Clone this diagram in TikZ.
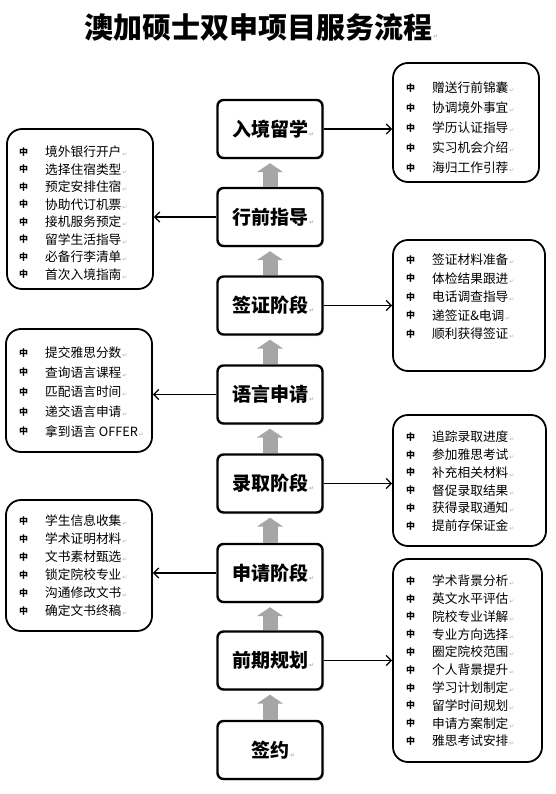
\documentclass[tikz,border=0pt]{standalone}
\usepackage{fontspec}
\setmainfont{Noto Sans CJK SC}
\newfontfamily\symf{DejaVu Sans}
\usetikzlibrary{arrows.meta,shadows}

\newcommand{\rmk}{{\symf\fontsize{6}{6}\selectfont\color{gray!60}\,↵}}
\newcommand{\itm}[1]{\raisebox{1.5pt}{\fontsize{9}{9}\selectfont\bfseries 中}\hspace{17pt}#1\rmk}

\tikzset{
  stage/.style={draw, line width=2.4pt, rounded corners=6pt, fill=white,
    minimum width=105pt, minimum height=58pt, font=\fontsize{19}{20}\selectfont\bfseries,
    drop shadow={shadow xshift=1.5pt, shadow yshift=-1.5pt, opacity=0.25}},
  panel/.style={draw, line width=1.8pt, rounded corners=15pt, inner sep=0pt},
  item/.style={anchor=west, inner sep=0pt, font=\fontsize{12.7}{14}\selectfont},
  uparrow/.style={draw=gray!70, line width=15pt, -{Triangle[length=9pt,width=26pt]}, shorten >=4pt},
  sidearrow/.style={line width=1.3pt, -{Straight Barb[length=5pt,width=10pt]}}
}

\begin{document}
\begin{tikzpicture}[x=1pt,y=-1pt]
\useasboundingbox (0,0) rectangle (556,794);
%\draw[step=10pt,gray,very thin] (0,0) grid (556,794); %background grid

% title
\node[font=\fontsize{29}{30}\selectfont\bfseries] (title) at (258,28) {澳加硕士双申项目服务流程\rlap{\rmk}};

% stages
\node[stage] (rujing)    at (270,129)   {入境留学\rlap{\rmk}};
\node[stage] (xingqian)  at (270,217)   {行前指导\rlap{\rmk}};
\node[stage] (qianzheng) at (270,305.5) {签证阶段\rlap{\rmk}};
\node[stage] (yuyan)     at (270,394.5) {语言申请\rlap{\rmk}};
\node[stage] (luqu)      at (270,483.5) {录取阶段\rlap{\rmk}};
\node[stage] (shenqing)  at (270,573)   {申请阶段\rlap{\rmk}};
\node[stage] (qianqi)    at (270,660.5) {前期规划\rlap{\rmk}};
\node[stage] (qianyue)   at (270,750)   {签约\rlap{\rmk}};

\draw[uparrow] (qianyue.north)   -- (qianqi.south);
\draw[uparrow] (qianqi.north)    -- (shenqing.south);
\draw[uparrow] (shenqing.north)  -- (luqu.south);
\draw[uparrow] (luqu.north)      -- (yuyan.south);
\draw[uparrow] (yuyan.north)     -- (qianzheng.south);
\draw[uparrow] (qianzheng.north) -- (xingqian.south);
\draw[uparrow] (xingqian.north)  -- (rujing.south);

% side boxes
\node[panel, minimum width=146pt, minimum height=119pt] (prujing)    at (466,122.5) {};
\node[panel, minimum width=146pt, minimum height=160pt] (pxingqian)  at (80,209)    {};
\node[panel, minimum width=152pt, minimum height=131pt] (pqianzheng) at (469,305.5) {};
\node[panel, minimum width=146pt, minimum height=123pt] (pyuyan)     at (79,390.5)  {};
\node[panel, minimum width=153pt, minimum height=131pt] (pluqu)      at (469.5,480.5) {};
\node[panel, minimum width=146pt, minimum height=131pt] (pshenqing)  at (79,565.5)  {};
\node[panel, minimum width=149pt, minimum height=203pt] (pqianqi)    at (467.5,660.5) {};

\draw[sidearrow] (rujing.east)    -- (rujing.east -| prujing.west);
\draw[sidearrow] (xingqian.west)  -- (xingqian.west -| pxingqian.east);
\draw[sidearrow] (qianzheng.east) -- (qianzheng.east -| pqianzheng.west);
\draw[sidearrow] (yuyan.west)     -- (yuyan.west -| pyuyan.east);
\draw[sidearrow] (luqu.east)      -- (luqu.east -| pluqu.west);
\draw[sidearrow] (shenqing.west)  -- (shenqing.west -| pshenqing.east);
\draw[sidearrow] (qianqi.east)    -- (qianqi.east -| pqianqi.west);

% rujing items
\node[item] (rj1) at (406,88)  {\itm{赠送行前锦囊}};
\node[item] (rj2) at (406,108) {\itm{协调境外事宜}};
\node[item] (rj3) at (406,128) {\itm{学历认证指导}};
\node[item] (rj4) at (406,148) {\itm{实习机会介绍}};
\node[item] (rj5) at (406,168) {\itm{海归工作引荐}};

% xingqian items
\node[item] (xq1) at (19,152)   {\itm{境外银行开户}};
\node[item] (xq2) at (19,169.5) {\itm{选择住宿类型}};
\node[item] (xq3) at (19,187)   {\itm{预定安排住宿}};
\node[item] (xq4) at (19,204.5) {\itm{协助代订机票}};
\node[item] (xq5) at (19,222)   {\itm{接机服务预定}};
\node[item] (xq6) at (19,239.5) {\itm{留学生活指导}};
\node[item] (xq7) at (19,257)   {\itm{必备行李清单}};
\node[item] (xq8) at (19,274.5) {\itm{首次入境指南}};

% qianzheng items
\node[item] (qz1) at (406,260)   {\itm{签证材料准备}};
\node[item] (qz2) at (406,278.5) {\itm{体检结果跟进}};
\node[item] (qz3) at (406,297)   {\itm{电话调查指导}};
\node[item] (qz4) at (406,315.5) {\itm{递签证\&电调}};
\node[item] (qz5) at (406,334)   {\itm{顺利获得签证}};

% yuyan items
\node[item] (yy1) at (19,353)   {\itm{提交雅思分数}};
\node[item] (yy2) at (19,372.5) {\itm{查询语言课程}};
\node[item] (yy3) at (19,392)   {\itm{匹配语言时间}};
\node[item] (yy4) at (19,412)   {\itm{递交语言申请}};
\node[item] (yy5) at (19,431.5) {\itm{拿到语言 OFFER}};

% luqu items
\node[item] (lq1) at (406,437)   {\itm{追踪录取进度}};
\node[item] (lq2) at (406,455)   {\itm{参加雅思考试}};
\node[item] (lq3) at (406,472.5) {\itm{补充相关材料}};
\node[item] (lq4) at (406,490.5) {\itm{督促录取结果}};
\node[item] (lq5) at (406,508)   {\itm{获得录取通知}};
\node[item] (lq6) at (406,526)   {\itm{提前存保证金}};

% shenqing items
\node[item] (sq1) at (19,521) {\itm{学生信息收集}};
\node[item] (sq2) at (19,539) {\itm{学术证明材料}};
\node[item] (sq3) at (19,557) {\itm{文书素材甄选}};
\node[item] (sq4) at (19,575) {\itm{锁定院校专业}};
\node[item] (sq5) at (19,593) {\itm{沟通修改文书}};
\node[item] (sq6) at (19,611) {\itm{确定文书终稿}};

% qianqi items
\node[item] (qq1)  at (406,581)   {\itm{学术背景分析}};
\node[item] (qq2)  at (406,599)   {\itm{英文水平评估}};
\node[item] (qq3)  at (406,616.5) {\itm{院校专业详解}};
\node[item] (qq4)  at (406,634.5) {\itm{专业方向选择}};
\node[item] (qq5)  at (406,652)   {\itm{圈定院校范围}};
\node[item] (qq6)  at (406,670)   {\itm{个人背景提升}};
\node[item] (qq7)  at (406,688)   {\itm{学习计划制定}};
\node[item] (qq8)  at (406,705.5) {\itm{留学时间规划}};
\node[item] (qq9)  at (406,723.5) {\itm{申请方案制定}};
\node[item] (qq10) at (406,741)   {\itm{雅思考试安排}};

\end{tikzpicture}
\end{document}
